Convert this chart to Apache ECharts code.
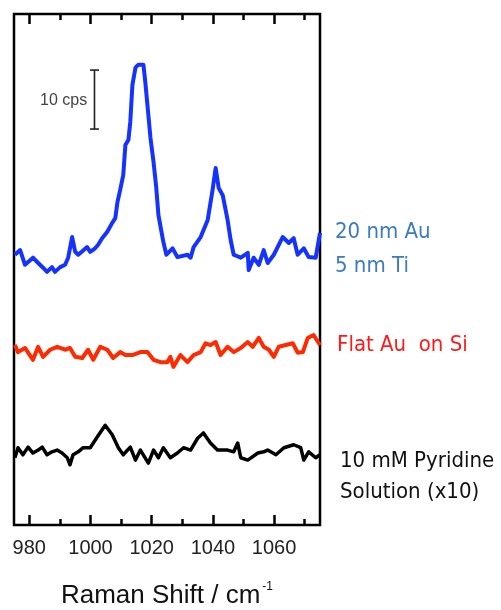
<!DOCTYPE html>
<html>
<head>
<meta charset="utf-8">
<script src="https://cdn.jsdelivr.net/npm/echarts@6/dist/echarts.min.js"></script>
<style>
html,body{margin:0;padding:0;background:#fff;}
#chart{width:501px;height:610px;}
</style>
</head>
<body>
<div id="chart"></div>
<script>
// Raman shift (cm^-1) and intensity (cps, offset traces)
const blueX = [975.3,977.0,978.6,981.2,982.9,984.5,985.8,987.4,988.4,990.1,991.7,992.7,994.0,995.0,996.0,998.9,999.9,1001.5,1002.5,1003.8,1005.5,1007.1,1008.1,1008.8,1009.7,1010.7,1011.4,1012.4,1013.0,1013.7,1014.7,1015.6,1017.3,1017.9,1018.6,1019.6,1020.6,1021.5,1022.2,1023.8,1024.8,1026.8,1028.4,1031.7,1032.7,1033.7,1036.0,1038.3,1039.9,1040.9,1041.9,1043.2,1044.8,1045.8,1046.8,1049.1,1051.4,1051.7,1053.3,1055.0,1056.6,1057.9,1059.9,1062.8,1064.8,1066.4,1067.7,1069.7,1071.3,1073.6,1075.0];
const blueY = [45.8,46.6,44.1,45.3,44.4,43.6,42.9,43.7,42.9,43.7,44.1,45.3,48.8,46.3,45.8,47.1,46.3,46.9,47.5,48.6,49.7,51.2,52.0,54.7,56.8,59.3,64.4,65.3,68.3,74.6,77.5,78.0,78.0,75.1,71.2,65.6,61.5,57.1,52.5,48.0,45.8,46.9,45.4,45.8,45.3,47.1,48.8,51.7,56.8,60.5,57.1,55.9,51.7,48.3,45.8,45.3,46.1,43.2,45.3,44.1,46.6,44.4,45.8,48.8,47.8,48.6,45.8,46.9,45.4,45.3,49.5];

const redX = [975.3,976.3,978.6,981.2,982.9,984.5,986.8,989.1,991.7,993.3,995.0,997.3,999.2,1000.9,1003.2,1005.5,1007.4,1009.7,1011.4,1013.7,1016.3,1018.6,1020.6,1022.9,1025.1,1026.1,1027.1,1029.4,1031.7,1033.7,1036.0,1037.6,1039.2,1040.9,1042.5,1044.8,1046.8,1049.1,1051.4,1053.0,1055.0,1056.6,1058.3,1059.9,1061.5,1063.8,1066.1,1067.7,1069.4,1071.0,1072.9,1075.0];
const redY = [30.5,29.3,30.0,28.0,30.2,28.5,29.7,30.2,29.7,30.0,28.5,28.3,29.7,28.0,30.2,29.7,28.3,29.3,28.8,28.8,29.3,29.3,28.0,27.6,27.6,28.5,26.8,28.8,27.6,28.8,29.3,30.8,30.5,31.0,28.8,30.2,29.3,30.0,31.0,30.2,31.7,30.2,29.7,28.5,30.2,30.5,30.8,29.2,29.3,31.7,32.2,30.5];

const blackX = [975.3,976.3,977.9,979.6,981.2,982.9,984.2,985.8,987.4,989.1,990.7,992.4,993.3,994.3,996.0,997.6,999.9,1002.2,1004.8,1007.1,1009.1,1010.7,1013.0,1014.7,1016.3,1018.9,1020.6,1022.2,1023.8,1026.1,1028.4,1030.4,1032.7,1035.0,1036.9,1039.2,1041.5,1044.8,1046.8,1048.1,1049.1,1051.4,1054.7,1056.6,1057.9,1060.6,1063.2,1066.4,1068.7,1069.7,1071.3,1073.6,1075.0];
const blackY = [11.4,13.1,11.9,13.2,12.2,12.7,13.2,11.9,12.4,12.7,12.2,11.4,10.2,11.9,12.4,13.1,13.1,14.9,16.9,15.3,13.1,11.9,13.2,11.0,12.7,10.5,12.7,11.4,13.1,11.4,12.2,13.1,12.7,14.7,15.6,13.9,12.7,12.7,12.4,13.9,11.4,11.0,12.2,12.4,12.7,11.9,13.1,13.6,13.1,11.0,12.4,11.4,11.9];

// scale bar: 10 cps
const scaleBarX = [1001.3, 1001.3];
const scaleBarY = [67.1, 77.1];

const majorTicks = [980, 1000, 1020, 1040, 1060];
const minorTicks = [990, 1010, 1030, 1050, 1070];

const xMin = 975, xMax = 1075;
const yMin = 0, yMax = 86.6;

const zip = (a, b) => a.map((v, i) => [v, b[i]]);

const chart = echarts.init(document.getElementById('chart'), null, {renderer: 'canvas'});

const tickStyle = {color: '#000', width: 2.5};
function tickAxis(pos, values, len, withLabel) {
  return {
    type: 'value', position: pos, min: xMin, max: xMax,
    axisLine: {show: false},
    splitLine: {show: false},
    axisTick: {show: true, inside: true, length: len, customValues: values, lineStyle: tickStyle},
    axisLabel: withLabel ? {
      show: true, customValues: values, margin: 13,
      formatter: v => String(v),
      fontFamily: 'Liberation Sans, Arial, sans-serif', fontSize: 20, color: '#222'
    } : {show: false}
  };
}

const mainX = tickAxis('bottom', majorTicks, 10, true);
mainX.name = '{a|Raman Shift / cm}{s|-1}';
mainX.nameLocation = 'middle';
mainX.nameGap = 56;
mainX.nameTextStyle = {
  rich: {
    a: {fontFamily: 'Liberation Sans, Arial, sans-serif', fontSize: 26, color: '#111', lineHeight: 30},
    s: {fontFamily: 'Liberation Sans, Arial, sans-serif', fontSize: 12, color: '#111', verticalAlign: 'top', lineHeight: 14, padding: [0,0,0,2]}
  }
};

const option = {
  backgroundColor: '#fff',
  animation: false,
  grid: {left: 14, right: 181, top: 14, bottom: 85, outerBoundsMode: 'none', containLabel: false,
         show: true, borderColor: '#000', borderWidth: 2.5, backgroundColor: 'transparent'},
  xAxis: [
    mainX,
    tickAxis('top', majorTicks, 10, false),
    tickAxis('bottom', minorTicks, 6, false),
    tickAxis('top', minorTicks, 6, false)
  ],
  yAxis: {type: 'value', min: yMin, max: yMax, show: false},
  series: [
    {type: 'line', data: zip(blueX, blueY), showSymbol: false, symbol: 'none', clip: true,
     lineStyle: {color: '#1533ff', width: 4, join: 'round'}, z: 3},
    {type: 'line', data: zip(redX, redY), showSymbol: false, symbol: 'none', clip: true,
     lineStyle: {color: '#ff2a00', width: 4, join: 'round'}, z: 3},
    {type: 'line', data: zip(blackX, blackY), showSymbol: false, symbol: 'none', clip: true,
     lineStyle: {color: '#000', width: 3.5, join: 'round'}, z: 3},
    {type: 'line', data: zip(scaleBarX, scaleBarY), showSymbol: true, symbol: 'rect', symbolSize: [9, 1.6],
     lineStyle: {color: '#222', width: 1.6}, itemStyle: {color: '#222'}, z: 4}
  ],
  graphic: [
    {type: 'text', left: 40, top: 93, style: {text: '10 cps', fontFamily: 'Liberation Sans, Arial, sans-serif', fontSize: 16, fill: '#444'}},
    {type: 'text', left: 335, top: 221, style: {text: '20 nm Au', fontFamily: "'DejaVu Sans Condensed', 'DejaVu Sans', sans-serif", fontSize: 22, fill: '#3b7bc0'}},
    {type: 'text', left: 335, top: 255, style: {text: '5 nm Ti', fontFamily: "'DejaVu Sans Condensed', 'DejaVu Sans', sans-serif", fontSize: 22, fill: '#3b7bc0'}},
    {type: 'text', left: 337, top: 334, style: {text: 'Flat Au  on Si', fontFamily: "'DejaVu Sans Condensed', 'DejaVu Sans', sans-serif", fontSize: 22, fill: '#ff1a1a'}},
    {type: 'text', left: 340, top: 450, style: {text: '10 mM Pyridine', fontFamily: "'DejaVu Sans Condensed', 'DejaVu Sans', sans-serif", fontSize: 22, fill: '#111'}},
    {type: 'text', left: 340, top: 481, style: {text: 'Solution (x10)', fontFamily: "'DejaVu Sans Condensed', 'DejaVu Sans', sans-serif", fontSize: 22, fill: '#111'}}
  ]
};
chart.setOption(option);
</script>
</body>
</html>
